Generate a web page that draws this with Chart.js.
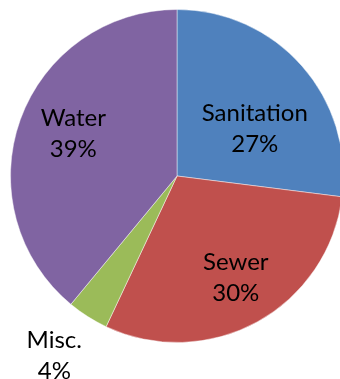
<!DOCTYPE html>
<html>
<head>
<meta charset="utf-8">
<script src="https://cdn.jsdelivr.net/npm/chart.js@4.4.1/dist/chart.umd.min.js"></script>
<style>
  html, body { margin: 0; padding: 0; background: #fff; overflow: hidden; }
  #wrap { position: relative; width: 354px; height: 379px; }
</style>
</head>
<body>
<div id="wrap"><canvas id="pieChart"></canvas></div>
<script>
const categories = ['Sanitation', 'Sewer', 'Misc.', 'Water'];
const shares = [27, 30, 4, 39];
const sliceColors = ['#4F81BD', '#C0504D', '#9BBB59', '#8064A2'];
// label block centre, as a fraction of the radius from the pie centre
const labelOffsetX = [0.467, 0.353, -0.737, -0.623];
const labelOffsetY = [-0.287, 0.61, 1.078, -0.257];

const labelPlugin = {
  id: 'sliceLabels',
  afterDatasetsDraw(chart) {
    const ctx = chart.ctx;
    const arcs = chart.getDatasetMeta(0).data;
    ctx.save();
    ctx.font = '24px Lato';
    ctx.fillStyle = '#000';
    ctx.textAlign = 'center';
    ctx.textBaseline = 'middle';
    arcs.forEach((arc, i) => {
      const r = arc.outerRadius;
      const x = arc.x + labelOffsetX[i] * r;
      const y = arc.y + labelOffsetY[i] * r;
      ctx.fillText(categories[i], x, y - 15);
      ctx.fillText(shares[i] + '%', x, y + 16);
    });
    ctx.restore();
  }
};

new Chart(document.getElementById('pieChart').getContext('2d'), {
  type: 'pie',
  data: {
    labels: categories,
    datasets: [{
      data: shares,
      backgroundColor: sliceColors,
      borderColor: 'rgba(255,255,255,0.45)',
      borderWidth: 1
    }]
  },
  options: {
    responsive: true,
    maintainAspectRatio: false,
    animation: false,
    layout: { padding: { top: 9, bottom: 36, left: 10, right: 10 } },
    plugins: {
      legend: { display: false },
      tooltip: { enabled: false }
    }
  },
  plugins: [labelPlugin]
});
</script>
</body>
</html>
